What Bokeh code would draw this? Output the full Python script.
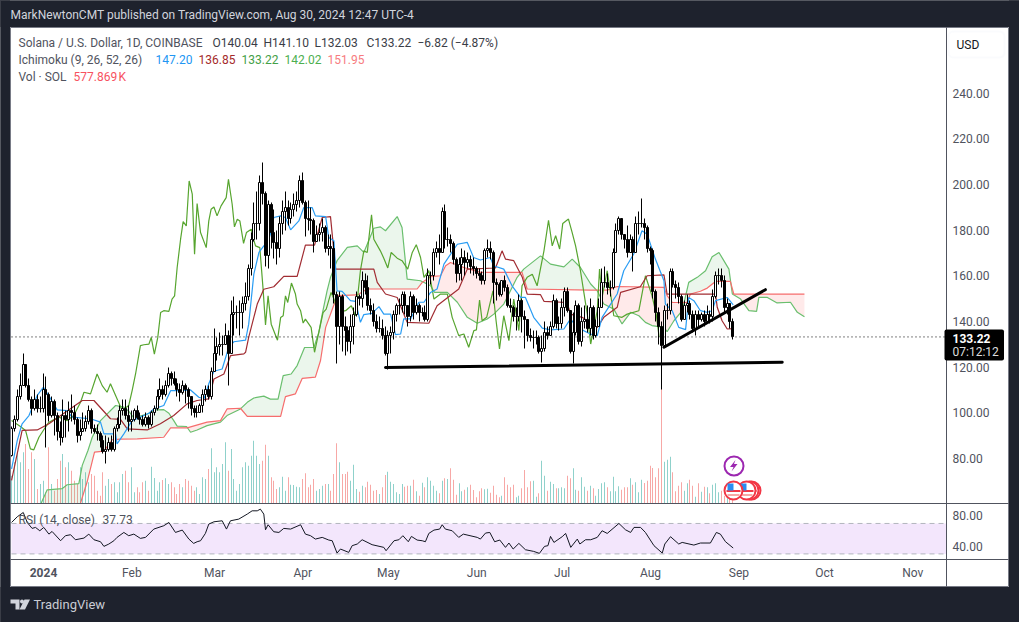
from bokeh.plotting import figure
from bokeh.models import Range1d, FixedTicker, Label, BoxAnnotation, LinearAxis
from bokeh.embed import file_html
from bokeh.resources import INLINE
import numpy as np

# ---------- data (days counted from 2024-01-01) ----------
TITLE = "MarkNewtonCMT published on TradingView.com, Aug 30, 2024 12:47 UTC-4"
FIRST_DAY = -11
FIRST_OPEN = 81.5
CLOSE = [93,97,107,112,121,112,106,102,106,102,
 102,110,108,99,105,99,92,89,99,97,
 101,100,97,90,92,93,96,101,93,92,
 91,88,83,84,87,84,93,95,101,102,
 99,96,97,101,98,97,95,98,95,100,
 102,107,110,108,112,117,115,113,110,109,
 112,110,107,102,100,100,103,108,110,107,
 118,126,129,130,130,134,126,143,144,144,
 144,148,151,163,176,183,183,201,196,169,
 191,179,174.5,172,183,188,190,185,189,191,
 193,201.5,192,185,184.5,184,175,178,179,181,
 172,173,172,152,138,151,138,136,131,138,
 143,151,150,158,155,147,145,140,137,137,
 134,126,134,135,143,147,147,152,147,142,
 151,144,147,144,144,141,160,160,170,172,
 170,188,176,176,174,167,161,165,168,166,
 167,164,163,161,160,158,171,172,170,157,
 156,152,158,155,147,146,142,142,149,142,
 141,134,133,133,133,127,128,135,134,138,
 149,139,139,146,153,145,127,135,147,131,
 140,141,137,146,134,138,146,157,157,155,
 155,170,180,185,178,176,170,176,170,183,
 183,183,181,172,171,153,144,138,129.4,145,
 145,162,156,155,151,141,147,148,143,137,
 143,141,143,140,143,142,151,160,160,158,
 146,148,140.04,133.22]
HIGH = [94,99,110,117,126,121,115,107,110,108,
 107,117,116,109,107,106,100,96,106,101,
 105,108,103,98,97,100,99,103,102,95,
 95,92,90,90,89,90,94,98,103,106,
 106,103,101,102,103,100,99,100,99,101,
 103,110,115,112,114,120,118,118,115,113,
 114,113,111,107,103,103,104,110,112,112,
 120,137,133,135,134,139,136,149,151,147,
 149,151,157,165,179,192,197,204,209.7,197,
 193,192,189,180,186,193,197,193,192,196,
 197,204,205,193,193,190,185,182,183,185,
 182,178,178,175,153,153,152,142,138,143,
 146,153,152,162,161,160,150,148,143,142,
 141,138,136,138,145,148,150,153,153,147,
 153,152,150,148,146,147,163,162,172,175,
 178,190,191,181,178,175,168,168,172,171,
 170,169,168,164,163,162,172,176,175,171,
 159,157,158,160,156,150,147,146,152,150,
 145,141,137,136,136,134,134,140,138,140,
 152,150,142,150,155,155,145,144,149,148,
 146,147,147,150,147,141,150,163,164,161,
 158,172,183,186,185,178,182,178,177,186,
 188,193.6,185,182,173,172,154,146,140,147,
 148,163,163,158,157,152,149,152,149,145,
 145,145,144,145,147,145,154,162,163,163,
 160,150,146,141.10]
LOW = [81,92,96,106,112,111,105,99,101,100,
 100,100,85,96,98,90,88,85.5,87,89,
 92,96,95,87,88,92,92,95,91,91,
 88,85,82,78,83,83,83,92,93,99,
 97,92,92,96,97,95,94,94,93,94,
 99,101,106,106,107,111,112,112,107,105,
 108,104,102,99,98,98,100,100,105,106,
 106,118,123,125,125,130,112,126,134,137,
 134,137,145,149,160,175,176,180,191,164,
 163,172,167.5,165,168,178,180,182,183,186,
 188,190,191,177,180,178,170,175,175,175,
 170,169,163,148,121.7,130,127,125,127,126,
 130,142,147,146,152,145,143,138,135,135,
 132,125,119,126,132,140,143,144,143,138,
 140,141,143,140,142,140,140,156,158,168,
 165,170,172,173,170,165,157,158,158,160,
 163,161,160,159,158,156,156,168,167,148,
 149,151,151,153,146,144,140,136,140,135,
 128,131,131,128,130,126,122,127,132,134,
 137,137,136,137,142,144,126,121.7,134,130,
 129,137,135,134,132,133,138,146,155,152,
 151,154,170,178,176,172,168,170,162,170,
 178,181,176,170,165,150,140,130,110,130,
 141,143,155,150,148,140,141,144,141,135,
 134,138,140,138,140,139,140,150,156,155,
 144,143,137,132.03]
VOLUME_K = [1275,1875,2325,1875,2325,2700,1575,2325,2025,675,
 900,1050,525,2550,900,600,1125,1950,2250,1650,
 1875,1500,1050,900,1650,1125,1425,975,1350,1275,
 600,375,1425,825,1125,900,975,525,975,1350,
 1500,975,1650,525,750,525,975,1050,600,1680,
 1170,600,975,1080,1155,900,975,750,450,900,
 750,1125,1050,825,600,750,450,1200,1125,1575,
 2505,1425,1650,1425,1800,2775,1500,2475,1125,600,
 900,1650,1875,1725,2175,2850,2175,1800,1950,2670,
 2175,1200,1050,675,750,1230,600,1200,870,855,
 780,750,1125,1380,750,870,1125,600,675,825,
 900,900,600,1350,2730,1875,1350,1350,1455,1050,
 1770,675,555,825,750,1005,870,600,630,450,
 750,1305,1455,1005,900,525,450,900,780,825,
 825,1095,570,375,960,750,1200,1050,825,600,
 480,1050,1155,1125,1605,1095,420,930,570,645,
 750,870,630,300,570,705,660,690,510,825,
 420,300,375,1200,870,750,870,300,375,705,
 1530,750,1020,1050,330,480,1950,1275,600,1005,
 900,705,705,750,705,1275,1155,1605,645,600,
 1200,780,600,825,705,375,675,930,975,750,
 570,1230,570,795,645,750,750,1155,870,975,
 525,1095,945,1050,1725,1620,1200,1605,5370,1905,
 1995,2130,1425,570,825,975,600,930,1095,825,
 330,930,555,780,750,480,870,930,525,600,
 375,300,300,577.869]

TENKAN_D = [-11.2,-9.2,-7.5,-5.1,-2.2,0,2.5,4.8,8.3,10,16.5,20,21.2,25.3,25.8,28.2,31.1,37,38.7,42.2,44.6,48.1,51.6,54.5,56.3,58,59.8,62.7,65,66.8,70.9,72,73.8,75.6,77.3,78.5,79.6,80.8,83.2,84.9,86.7,89.6,91.3,94.3,95.4,99,100.1,101.9,103,104.8,107.7,109.5,111.2,112.4,115.3,117.7,119.4,121.8,123.5,125.3,126.4,128.8,131.7,133.5,135.8,138.1,140.5,145.2,148.7,150.9,153.3,156.8,157.9,161.5,164.4,167.4,169.1,172,175,177.9,182.6,184.9,187.2,191.9,194.3,196,199,201.3,203.6,207.1,210,211.8,214.7,217.7,218.2,220.6,222.9,225.3,226.4,228.2,230.5,232.9,234.6,235.8,239.9,242]
TENKAN_P = [75.5,87.9,95.2,98.8,107.6,111.2,106.1,101.3,101,98.1,97.4,95.9,90.8,90.8,86.4,90.8,96.6,99.8,101.7,103.2,109.7,109.7,110,106.8,106.1,112.7,118.2,119.2,128.7,131.1,131.8,138.8,160.7,170.2,173.1,173.8,178.2,185.5,186.2,185.5,180.1,184,189.8,189.8,186.2,185.9,176.7,175.3,153.4,153.2,149.1,148.8,139.6,143,143.5,146.5,143.2,143.2,134.2,134.5,141.1,141.1,148.4,148.4,152.7,154.2,165.1,173.8,174.6,168,166.9,168,164.4,162.9,155.6,150.5,150.5,141.8,137.1,136.3,136.7,141.1,137.4,134.5,133.8,141.8,147.6,152,162.2,169.5,179.7,178.2,167.3,157.8,147.6,144.7,137.4,136.4,150.5,149.1,144.7,144,144.7,149.1,150.5,147.2]

KIJUN_D = [-11.2,-7.5,-2.2,1.9,13.6,17.7,23.5,27,29.4,36.4,41,45.7,50.4,53.9,58,59.8,63.3,65.6,70.3,70.9,72,75,77.3,80.8,84.3,89,91.9,95.1,97.8,100.7,102.5,115.9,117.1,120,124.1,127.6,135.2,138.1,145.7,148.7,158.6,160.9,162.1,165,168,169.7,174.4,175.6,183.7,184.9,189,194.3,196.6,201.3,202.5,209.4,211.8,217.7,218.8,235.8,236.4,238.1,239.9,241.9]
KIJUN_P = [70.4,92.3,92.5,95.2,105.4,105.4,97.4,97.1,93,92.5,95.2,98.8,103.9,105.4,106.1,114.8,117,125,125.8,126.5,133,147.6,154.1,155.2,159.7,159.7,173.4,173.4,185.5,185.9,162.9,162.9,157.1,152,150.5,139.6,139.2,146.9,154.2,162.9,163.4,170.9,167.3,166.6,159.3,152,151.7,148.8,148.3,143.2,141.8,137.4,141.8,146.2,152.7,155.2,160,160.4,152,152,146.2,140.3,136.7,136.85]

CHIKOU_D = [-11.2,-8.1,-6.3,-4.6,-3.4,-1.6,0.1,1.9,5.4,8.3,10.6,13,14.2,16.5,18.8,20.6,22.3,23.5,25.3,27.6,29.9,31.1,32.3,34,35.2,37,37.8,38.9,40.1,41.1,42.2,44,45.1,46,46.9,48.1,49,50.1,51.1,52.2,53,53.9,55.1,57.1,58,58.8,59.8,60.9,62.3,64.1,64.9,66.2,67,68,68.9,70.2,71.2,72.9,73.5,74.4,75.9,77,77.9,78.8,79.9,82.1,83.2,84.1,84.9,85.7,87,88.4,89,90.2,91.1,91.9,93.9,95.1,96.6,98.1,99.2,100.9,102.2,103,106,108,109.5,111.2,112.4,113.6,115.1,115.9,118.2,119.4,120.8,122,124.1,125.8,127.8,129.4,130.8,132.3,133.5,135.2,137,139.3,141.7,143.4,145.7,147.5,149.2,151,151.9,153,153.9,155.5,157.7,158.8,160,161.5,163.3,165,166.8,167.9,169.7,171.5,173.2,175.6,177.2,178.5,179.7,181.1,182.2,184.2,185.5,186.7,188.4,190.8,192,193.1,194.3,195.1,196,197.8,200.1,203,204.8,208.9,211.2,213.5,215,216]
CHIKOU_P = [96.6,94,92.3,84.2,83.8,89.3,92.6,95.9,98.1,96.6,98.8,104.6,109,108.3,117,111.9,109,112.7,107.6,101,103.2,109.7,117,129.4,129.8,130.1,133,125.7,133,143.9,144.7,144.4,149.8,151.2,163.6,176,183.7,181.8,201.5,195.7,169.4,191.6,178.9,172.3,184,189.1,190.1,186.2,190.6,194.2,202.2,191.3,181.4,184.7,184,174.2,178.9,180.4,176.7,173.1,172.3,154.9,138.5,151.2,138.8,131.8,141.7,142.5,151.2,148.3,156.8,152,147.6,144.7,139.3,141,137.4,126.5,135.2,143.9,145.4,152.7,149,144,144.7,146.9,142.5,162.2,170.9,170.2,186.7,176,170.9,167.7,163.4,170.2,167.7,166.6,162.9,170.2,173.6,168,159.3,162.2,149.8,152,152,141.8,133.8,134.5,128.7,136,136.3,149.4,140.3,141.8,153.4,140.3,128,142.5,131.6,149.8,136,155.6,159.3,160.7,155.6,170.9,184.3,173.1,177.5,171.7,182.9,184.8,178.9,173.1,162.2,143.2,130.1,137.4,144.7,162.9,150.5,162.2,142.5,141.8,143.2,144.7,160,151.3,143.2,133.22]

SPAN_A_D = [-0.8,1.3,6.5,8.3,12.4,13.6,15.6,17.1,20,22.1,25.3,28.2,29.9,31.7,36.4,39.3,42.2,44,45.7,46.9,50.2,51.6,53.9,57.4,62.1,64.4,69.1,71.5,73.8,77.3,79.6,82.3,84.1,86.9,89,91.6,94.9,96.6,97.8,99.5,100.7,103,106.6,110.1,112.4,115.9,118.2,120,124.1,125.8,127.6,132.3,135.8,137.2,141.7,145.2,148.7,152.2,155.7,158,161.5,166.2,168.5,174.4,177.9,182.6,185.5,188.4,192,194.3,196.6,200.1,203,206,208.9,211.2,213.5,217.7,218.8,221.2,224.1,226.4,229.4,232.3,234.6,237,240.5,241.7,244.6,247.5,250.2,251,254,257.4,262.1,264.5,267]
SPAN_A_P = [60.5,66.3,66.8,68.5,69,77,83.5,89.3,96.6,99.2,103.2,102.5,100.7,97.8,99.5,101.3,101.4,99.8,96.6,94.2,94,91.5,92.5,94.4,95.9,98.8,101.7,104.6,106.5,107.3,106,106,116.3,117,120.7,128.6,128.6,135.2,143.2,153.4,159.3,166.6,172.4,173.1,170.2,180.8,181.4,179.7,185.9,181.1,158.5,157.8,155.6,152.7,152.7,148.4,141.8,139.2,141.1,143.2,147.6,159.3,162.9,168.7,165.1,163.9,167.3,163.6,156.4,153.4,147.6,145.4,138.9,144,142.5,139.6,138.2,137.4,135.5,140.3,144.7,157.1,159.3,162.2,168.3,170.2,162.9,152,149.8,144.7,144.4,150.5,150.5,148.1,148.4,144,142.02]

SPAN_B_D = [13,15.3,17.9,21.2,24.1,27,32.9,42.2,44.6,50.4,57.4,62.1,64.4,69.1,71.5,83.2,84.9,88.4,90.8,95.4,97.2,99,102.2,103,110.1,113.6,131.1,132.9,135.8,139.3,141.1,142.8,147.5,153.3,167.9,169.7,191.9,197.8,201.3,217.7,218.8,220.6,225.8,227,230.5,232.9,235.8,241,242.2,267]
SPAN_B_P = [60.5,69.7,82.8,83.2,88.2,88.5,88.6,89.3,93.4,93.4,95.9,96.6,101.7,102,98.4,98.4,107.1,108.3,115.1,115.6,122.9,137.4,148.3,151.3,151.6,154.2,154.2,157.1,159.6,160,164.4,165.8,163.6,161.5,161.5,154.2,153.7,153.7,155.3,154.9,151.3,148.3,148.3,152,153.2,154.6,157.5,157.5,152,151.95]

RSI_D = [-11.2,-9.2,-7.1,-5.7,-4,-2.8,-1.3,0.1,1.9,3,6,7.7,9.5,11.2,14.2,15.9,17.7,20,21.2,22.9,24.7,25.8,28.2,29.9,31.7,34,35.8,38.7,42.2,44,46.3,48.7,51,52.7,53.9,55.1,56.8,58,59.8,62.7,64.2,65.6,68.5,71.5,73.2,75,76.1,77.3,77.9,78.8,80.8,82.6,84.3,86.7,90.2,91.9,93.7,95.4,97.8,100.1,101.3,103,104.2,107.1,108.3,110.1,111.8,115.3,119.4,120.2,123,124.7,126.1,128,129.1,131.1,132.9,134,135.2,137,139,139.9,141,143.4,145.7,147.3,152.2,153.3,155.1,156.6,158.3,160.1,162.1,163.3,164.8,166.8,169.1,172,174,175.8,177,177.9,179.1,182,183.2,185,187.3,188.2,190.2,192,194.3,196,197.8,201.9,204.2,206,207.2,209.5,211.2,214.2,217.1,218,220,222.9,224.1,228.2,230.5,234,236.1,237.5,239.3,242]
RSI_V = [71.3,78.8,84.4,71.3,63.5,64.8,60.4,64.8,56,59.5,47.3,53.9,55.2,48.6,50.8,56,48.6,46,39.9,42.9,47.3,51.7,58.2,53.9,56,50.4,51.7,62.6,67,71.3,58.2,61.3,49.5,43.8,46,47.3,56.9,69.2,72.2,73.5,62.6,73.5,75.7,82.3,86.6,86.6,88.8,82.3,61.7,68.3,59.1,58.2,63.5,62.6,68.3,56,53.9,49.5,51.7,48.2,47.3,31.1,36.4,32,40.8,43,48.6,42.1,38.6,34.2,47.3,48.6,53.9,46,53,48.2,47.3,46,56.9,61.3,62.6,68.3,62.6,60.4,51.7,56,51.7,49.5,57.4,58.2,46,48.2,38.6,44.3,36.4,43.8,35.5,33.3,30.7,39.9,40.8,53,45.1,52.6,56.9,38.6,49.5,43,48.6,48.6,51.7,60.4,56.9,70,61.7,58.2,64.8,64.8,58.2,40.8,31.1,43,52.6,43,45.1,41.6,44.3,44.3,58.2,56,46,37.73]

SUPPORT_D = [120, 259.2]
SUPPORT_P = [119.8, 122.1]
RISING_D = [217.7, 253.3]
RISING_P = [128.7, 153.9]
LAST_PRICE = 133.22

PRICE_TICKS = [80,100,120,140,160,180,200,220,240]
RSI_TICKS = [40,80]
MONTH_DAYS = [31,60,91,121,152,182,213,244,274,305]
MONTH_NAMES = ["Feb","Mar","Apr","May","Jun","Jul","Aug","Sep","Oct","Nov"]

# ---------- style ----------
DARK = "#1e222d"; BORDER = "#787b86"; SEP = "#50535e"; TXT = "#50535e"
FONT = "Roboto"
UP_V = "#8fd1cb"; DN_V = "#f7a8a6"

# page pixels to the chart's own scales (for frames and annotations only)
def X(px): return (px-43)/2.85
def Y(py): return 240-(py-92.5)/2.2844
def YR(py): return 94.9-(py-504)/0.7613
def YV(py): return (503.5-py)*45
# candles sit on whole pixels, as the platform draws them
def snap_x(d): return X(np.floor(43+2.85*np.asarray(d, dtype=float)))
def snap_y(v): return Y(np.round(92.5+(240-np.asarray(v, dtype=float))*2.2844))

p = figure(width=1019, height=622, x_range=Range1d(X(0), X(1019)), y_range=Range1d(Y(622), Y(0)),
           x_axis_location=None, y_axis_location=None, output_backend="svg", toolbar_location=None,
           min_border=0, background_fill_color="white", border_fill_color=DARK, outline_line_color=None)
p.grid.visible = False
p.extra_y_ranges = {"vol": Range1d(YV(622), YV(0)), "rsi": Range1d(YR(622), YR(0))}

def style_axis(ax, standoff):
    ax.major_tick_line_color = None; ax.minor_tick_line_color = None; ax.axis_line_color = None
    ax.major_label_text_color = TXT; ax.major_label_text_font = FONT
    ax.major_label_text_font_size = "12px"; ax.major_label_standoff = standoff

def txt(px, py, s, color=TXT, size="12px", style="normal", align="left"):
    p.add_layout(Label(x=X(px), y=Y(py), text=s, text_color=color, text_font_size=size,
                       text_font=FONT, text_font_style=style, text_baseline="middle",
                       text_align=align, level="overlay"))

# ---------- volume and cloud ----------
days = np.arange(FIRST_DAY, FIRST_DAY+len(CLOSE))
opens = np.array([FIRST_OPEN]+CLOSE[:-1], dtype=float)
closes = np.array(CLOSE, dtype=float)
up = closes >= opens
sx = snap_x(days)

p.vbar(x=sx, top=VOLUME_K, bottom=0, width=1/2.85, y_range_name="vol",
       color=[UP_V if u else DN_V for u in up], line_color=None)

grid = np.arange(SPAN_A_D[0], SPAN_A_D[-1]+0.01, 0.2)
a = np.interp(grid, SPAN_A_D, SPAN_A_P)
b = np.interp(grid, SPAN_B_D, SPAN_B_P)
p.varea(x=grid, y1=a, y2=np.where(a > b, b, a), fill_color="#4caf50", fill_alpha=0.11)
p.varea(x=grid, y1=a, y2=np.where(a < b, b, a), fill_color="#ff5252", fill_alpha=0.12)

# ---------- ichimoku ----------
p.line(SPAN_A_D, SPAN_A_P, line_color="#6abf6e", line_width=1.2)
p.line(SPAN_B_D, SPAN_B_P, line_color="#f66d6d", line_width=1.2)
p.line(CHIKOU_D, CHIKOU_P, line_color="#57a52f", line_width=1.2)
p.line(KIJUN_D, KIJUN_P, line_color="#a12c32", line_width=1.2)
p.line(TENKAN_D, TENKAN_P, line_color="#2a9df4", line_width=1.2)

# ---------- candles ----------
p.segment(sx, snap_y(LOW), sx, snap_y(HIGH), line_color="black", line_width=1)
p.vbar(x=sx, top=snap_y(np.maximum(opens, closes)), bottom=snap_y(np.minimum(opens, closes)), width=2/2.85,
       fill_color=["white" if u else "black" for u in up], line_color="black", line_width=1)

p.segment([X(11)], [LAST_PRICE], [X(946)], [LAST_PRICE], line_color="black", line_width=1, line_dash="1 3")
p.line(SUPPORT_D, SUPPORT_P, line_color="black", line_width=3, line_cap="round")
p.line(RISING_D, RISING_P, line_color="black", line_width=3, line_cap="round")

# ---------- event icons ----------
def flag(cx, cy=490):
    p.circle(x=[X(cx)], y=[Y(cy)], radius=9/2.85, fill_color="white", line_color="#f23645", line_width=2)
    p.quad(left=[X(cx-7)], right=[X(cx+7)], top=[Y(cy-0.5)], bottom=[Y(cy+1.5)], fill_color="#f23645", line_color=None)
    p.quad(left=[X(cx-6)], right=[X(cx+6)], top=[Y(cy+3.5)], bottom=[Y(cy+5.5)], fill_color="#f7a9a7", line_color=None)
    p.quad(left=[X(cx-6)], right=[X(cx)], top=[Y(cy-7)], bottom=[Y(cy)], fill_color="#2a8cf0", line_color=None)
for c in (751, 749, 746, 733):
    flag(c)
p.circle(x=[X(733.5)], y=[Y(465.5)], radius=9.5/2.85, fill_color="white", line_color="#9c27b0", line_width=2)
p.patch([X(v) for v in (735, 729.5, 733, 731, 737, 733.5)],
        [Y(v) for v in (459.5, 466.5, 466.5, 471, 463.5, 463.5)], fill_color="#9c27b0", line_color=None)

# ---------- RSI ----------
p.quad(left=[X(11)], right=[X(946)], top=[70], bottom=[30], y_range_name="rsi", fill_color="#f3e6fc", line_color=None)
p.segment([X(11)]*2, [30, 70], [X(946)]*2, [30, 70], y_range_name="rsi", line_color="#b2b5be", line_width=1, line_dash="5 4")
p.line(RSI_D, RSI_V, y_range_name="rsi", line_color="#131722", line_width=1)

# ---------- frame of the page ----------
for l, r, t, b in ((0, 1019, 0, 27), (0, 1019, 587, 622), (0, 10, 0, 622), (1009, 1019, 0, 622)):
    p.quad(left=[X(l-0.5)], right=[X(r-0.5)], top=[Y(t-0.5)], bottom=[Y(b-0.5)], fill_color=DARK, line_color=None)
p.segment(X(10), Y(27), X(1008), Y(27), line_color=BORDER)
p.segment(X(10), Y(586), X(1008), Y(586), line_color=BORDER)
p.segment(X(10), Y(27), X(10), Y(586), line_color=BORDER)
p.segment(X(1008), Y(27), X(1008), Y(586), line_color=BORDER)
p.segment(X(946), Y(27), X(946), Y(586), line_color=SEP)
p.segment(X(10), Y(503), X(1008), Y(503), line_color=SEP)
p.segment(X(10), Y(559), X(1008), Y(559), line_color=SEP)

# footer logo
p.patch([X(v) for v in (10, 19, 19, 15, 15, 10)], [Y(v) for v in (599, 599, 609, 609, 603, 603)], fill_color="#d1d4dc", line_color=None)
p.circle(x=[X(21.5)], y=[Y(601)], radius=2/2.85, fill_color="#d1d4dc", line_color=None)
p.patch([X(v) for v in (24, 29.5, 24.5, 19)], [Y(v) for v in (599, 599, 609, 609)], fill_color="#d1d4dc", line_color=None)

# ---------- axes ----------
ya = LinearAxis(fixed_location=X(946), ticker=FixedTicker(ticks=PRICE_TICKS),
                major_label_overrides={t: f"{t:.2f}" for t in PRICE_TICKS})
style_axis(ya, 0)
p.add_layout(ya, "right")
ra = LinearAxis(fixed_location=X(946), y_range_name="rsi", ticker=FixedTicker(ticks=RSI_TICKS),
                major_label_overrides={t: f"{t:.2f}" for t in RSI_TICKS})
style_axis(ra, 0)
p.add_layout(ra, "right")
xa = LinearAxis(fixed_location=Y(559), ticker=FixedTicker(ticks=MONTH_DAYS),
                major_label_overrides=dict(zip(MONTH_DAYS, MONTH_NAMES)))
style_axis(xa, 0)
p.add_layout(xa, "below")

# ---------- tags ----------
p.add_layout(BoxAnnotation(left=X(948), right=X(1004), top=Y(31), bottom=Y(57), fill_color="white", fill_alpha=1,
                           line_color="#f0f3fa", line_width=2, border_radius=5, level="overlay"))
txt(956, 44.5, "USD", color="#131722")
p.add_layout(BoxAnnotation(left=X(944), right=X(1003.5), top=Y(329), bottom=Y(360), fill_color="black", fill_alpha=1,
                           line_color=None, border_radius=2, level="overlay"))
txt(952, 337.5, "133.22", color="white", style="bold")
txt(952, 351.5, "07:12:12", color="#dddddd")

# ---------- texts ----------
txt(10, 14.5, TITLE, color="#d1d4dc")
txt(18, 42, "Solana / U.S. Dollar, 1D, COINBASE")
for px, s in zip((212, 263, 314, 366, 417), ("O140.04", "H141.10", "L132.03", "C133.22", "−6.82 (−4.87%)")):
    txt(px, 42, s, color="#3a3d47")
txt(18, 59, "Ichimoku (9, 26, 52, 26)")
for px, s, c in zip((155, 198, 241, 284, 327), ("147.20", "136.85", "133.22", "142.02", "151.95"),
                    ("#2196f3", "#a52a2a", "#43a047", "#4caf50", "#f77c80")):
    txt(px, 59, s, color=c)
txt(18, 76, "Vol · SOL")
txt(73, 76, "577.869\u202fK", color="#f7525f")
txt(18, 519, "RSI (14, close)")
txt(102, 519, "37.73", color="#50535e")
txt(43, 572, "2024", style="bold", align="center")
txt(33, 604, "TradingView", color="#c9ccd4", size="13px")

html = file_html(p, INLINE)
html = html.replace("<head>", "<head><style>html,body{background:#1e222d;overflow:hidden}</style>", 1)
open("out.html", "w").write(html)
